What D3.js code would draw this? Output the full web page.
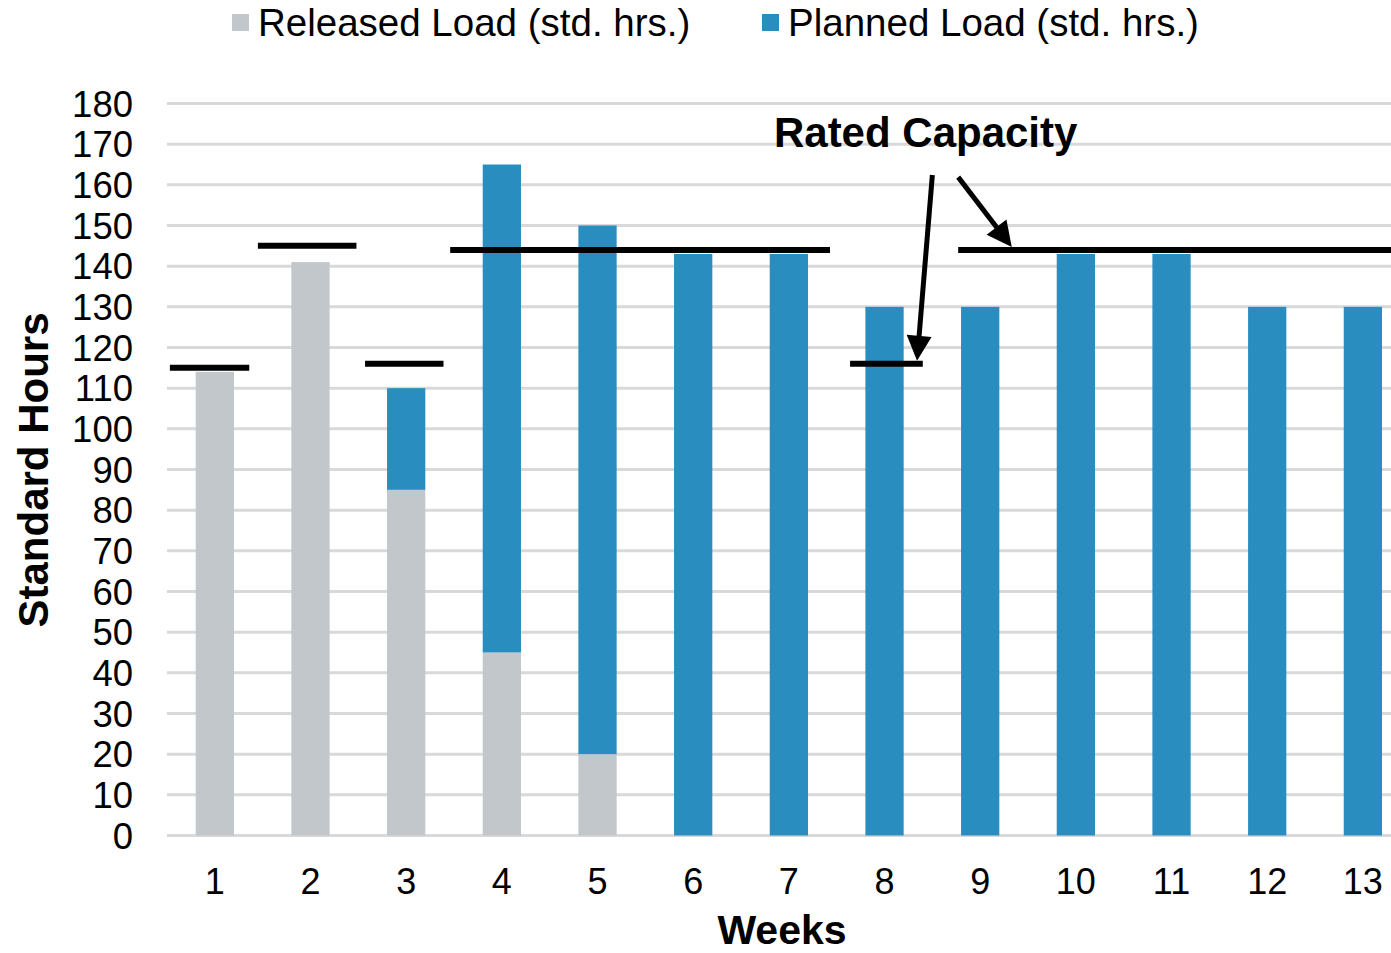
<!DOCTYPE html>
<html lang="en">
<head>
<meta charset="utf-8">
<title>Standard Hours by Week</title>
<style>
  body { margin: 0; background: #fff; }
  text { font-family: "Liberation Sans", Arial, sans-serif; fill: #000; }
  .grid line { stroke: #d9d9d9; stroke-width: 3px; }
</style>
<script src="https://d3js.org/d3.v7.min.js"></script>
</head>
<body>
<script>
// ---- data ----
const weeks = ["1","2","3","4","5","6","7","8","9","10","11","12","13"];
const released = [114, 141, 85, 45, 20, 0, 0, 0, 0, 0, 0, 0, 0];
const planned  = [0, 0, 25, 120, 130, 143, 143, 130, 130, 143, 143, 130, 130];
const yTicks = [0,10,20,30,40,50,60,70,80,90,100,110,120,130,140,150,160,170,180];
// rated capacity segments, spans in week units
const capFrom  = [0.53, 1.45, 2.57, 3.46, 7.64, 8.77];
const capTo    = [1.36, 2.48, 3.39, 7.43, 8.40, 13.6];
const capValue = [115, 145, 116, 144, 116, 144];
const seriesNames = ["Released Load (std. hrs.)", "Planned Load (std. hrs.)"];

const width = 1391, height = 953;
const grey = "#c1c7ca", blue = "#2a8dc0";

const svg = d3.select("body").append("svg")
    .attr("width", width)
    .attr("height", height);

const left = 167, step = 95.67;
const x = d3.scaleBand().domain(weeks)
    .range([left, left + step * weeks.length])
    .paddingInner(0.6).paddingOuter(0.3);
const xw = d3.scaleLinear().domain([0.5, weeks.length + 0.5])
    .range([left, left + step * weeks.length]);
const y = d3.scaleLinear().domain([0, 180]).range([835.5, 103.5]);

// gridlines
svg.append("g").attr("class", "grid")
  .selectAll("line").data(yTicks).enter().append("line")
    .attr("x1", left).attr("x2", width)
    .attr("y1", d => y(d)).attr("y2", d => y(d));

// y tick labels
svg.append("g").selectAll("text").data(yTicks).enter().append("text")
    .attr("x", 133).attr("y", d => y(d)).attr("dy", "0.36em")
    .attr("text-anchor", "end")
    .style("font-size", "36.5px")
    .text(d => d);

// x tick labels
svg.append("g").selectAll("text").data(weeks).enter().append("text")
    .attr("x", d => x(d) + x.bandwidth() / 2).attr("y", 894)
    .attr("text-anchor", "middle")
    .style("font-size", "36px")
    .text(d => d);

// stacked bars
const rows = weeks.map((w, i) => ({ week: w, released: released[i], planned: planned[i] }));
const stack = d3.stack().keys(["released", "planned"])(rows);
const colors = [grey, blue];
svg.append("g").selectAll("g").data(stack).enter().append("g")
    .attr("fill", (d, i) => colors[i])
  .selectAll("rect").data(d => d).enter().append("rect")
    .attr("x", d => x(d.data.week))
    .attr("width", x.bandwidth())
    .attr("y", d => y(d[1]))
    .attr("height", d => y(d[0]) - y(d[1]));

// rated capacity lines
svg.append("g").selectAll("line").data(capValue).enter().append("line")
    .attr("x1", (d, i) => xw(capFrom[i]))
    .attr("x2", (d, i) => Math.min(width, xw(capTo[i])))
    .attr("y1", d => y(d)).attr("y2", d => y(d))
    .attr("stroke", "#000").attr("stroke-width", 6);

// annotation
svg.append("text")
    .attr("x", xw(8.43)).attr("y", y(169.3))
    .attr("text-anchor", "middle")
    .style("font-size", "42px").style("font-weight", "bold")
    .text("Rated Capacity");

function arrow(x0, y0, x1, y1) {
  const dx = x1 - x0, dy = y1 - y0, len = Math.hypot(dx, dy);
  const ux = dx / len, uy = dy / len, hl = 25, hw = 12.5;
  const bx = x1 - ux * hl, by = y1 - uy * hl;
  svg.append("line")
      .attr("x1", x0).attr("y1", y0).attr("x2", bx + ux * 2).attr("y2", by + uy * 2)
      .attr("stroke", "#000").attr("stroke-width", 5);
  svg.append("path")
      .attr("d", `M${x1},${y1}L${bx - uy * hw},${by + ux * hw}L${bx + uy * hw},${by - ux * hw}Z`)
      .attr("fill", "#000");
}
arrow(xw(8.50), y(162.4), xw(8.34), y(116) - 3);
arrow(xw(8.77), y(161.9), xw(9.33), y(144) - 3);

// axis titles
svg.append("text")
    .attr("x", 782).attr("y", 944)
    .attr("text-anchor", "middle")
    .style("font-size", "41px").style("font-weight", "bold")
    .text("Weeks");
svg.append("text")
    .attr("transform", "translate(48,470) rotate(-90)")
    .attr("text-anchor", "middle")
    .style("font-size", "42px").style("font-weight", "bold")
    .text("Standard Hours");

// legend
const legendX = [232, 762];
const legend = svg.append("g").selectAll("g").data(seriesNames).enter().append("g")
    .attr("transform", (d, i) => `translate(${legendX[i]},0)`);
legend.append("rect")
    .attr("x", 0).attr("y", 14).attr("width", 17).attr("height", 17)
    .attr("fill", (d, i) => colors[i]);
legend.append("text")
    .attr("x", 26).attr("y", 36)
    .style("font-size", "38.5px")
    .text(d => d);
</script>
</body>
</html>
